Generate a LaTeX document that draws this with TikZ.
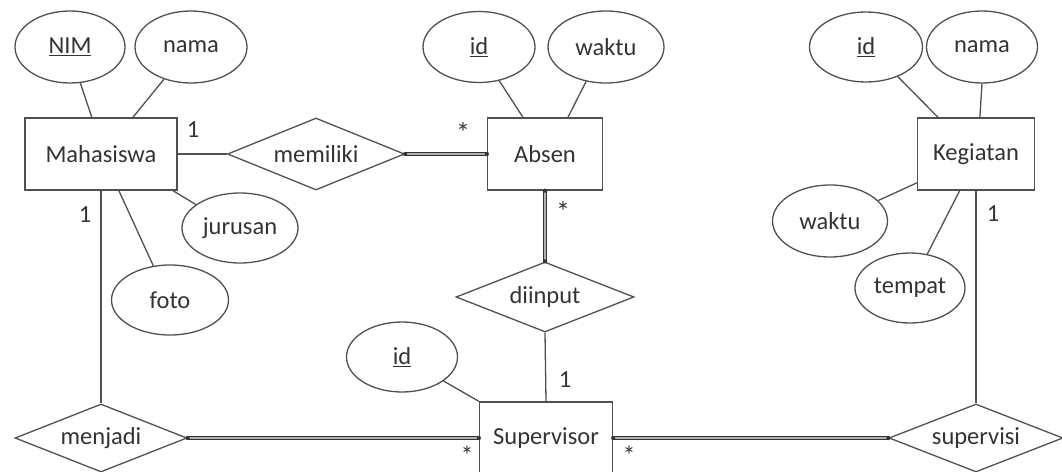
\documentclass[tikz,border=0pt]{standalone}
\usepackage{fontspec}
\setmainfont{Carlito}
\usetikzlibrary{shapes.geometric}
\definecolor{ln}{HTML}{505050}
\definecolor{tx}{HTML}{333333}
\begin{document}
\begin{tikzpicture}[x=1pt,y=-1pt,
  every node/.style={font=\fontsize{24.5}{28}\selectfont, text=tx},
  ent/.style={draw=ln, line width=1.3pt, rectangle, inner sep=0pt},
  attr/.style={draw=ln, line width=1.3pt, ellipse, inner sep=0pt, minimum width=113pt, minimum height=71pt},
  rel/.style={draw=ln, line width=1.3pt, diamond, aspect=2.5, inner sep=0pt, minimum width=176pt, minimum height=70pt},
  conn/.style={draw=ln, line width=1.3pt},
  dbl/.style={draw=tx, line width=1.5pt, double=gray!60, double distance=1.3pt},
  card/.style={inner sep=0pt},
  star/.style={inner sep=0pt, font=\fontsize{28}{28}\selectfont},
  lowstar/.style={inner sep=0pt, font=\fontsize{26}{26}\selectfont, anchor=base},
  enddot/.style={fill=tx, draw=none, circle, inner sep=0pt, minimum size=4.2pt}
]
\useasboundingbox (0,0) rectangle (1062,471);

% entities
\node[ent, minimum width=152pt, minimum height=72pt] (mhs) at (101,154) {Mahasiswa};
\node[ent, minimum width=115pt, minimum height=72pt] (abs) at (545,154) {Absen};
\node[ent, minimum width=117pt, minimum height=72pt] (keg) at (976,154) {Kegiatan};
\node[ent, minimum width=133pt, minimum height=72pt] (sup) at (546,438) {Supervisor};

% attributes
\node[attr, minimum width=110pt, minimum height=72pt] (nim) at (70,47) {\underline{NIM}};
\node[attr, minimum width=112pt, minimum height=72pt] (nama1) at (191,47) {nama};
\node[attr, minimum width=116pt, minimum height=70pt] (jur) at (240,228) {jurusan};
\node[attr, minimum width=117pt, minimum height=70pt] (foto) at (170,300) {foto};
\node[attr, minimum width=112pt, minimum height=71pt] (id2) at (479,47) {\underline{id}};
\node[attr, minimum width=116pt, minimum height=72pt] (waktu2) at (606,47) {waktu};
\node[attr, minimum width=111pt, minimum height=70pt] (id3) at (402,357) {\underline{id}};
\node[attr, minimum width=113pt, minimum height=70pt] (id4) at (866,47) {\underline{id}};
\node[attr, minimum width=111pt, minimum height=72pt] (nama4) at (982,47) {nama};
\node[attr, minimum width=115pt, minimum height=72pt] (waktu4) at (830,221) {waktu};
\node[attr, minimum width=110pt, minimum height=70pt] (tempat) at (910,288) {tempat};

% relationships
\node[rel, minimum width=177pt, minimum height=72pt] (mem) at (316,154) {memiliki};
\node[rel, minimum width=178pt, minimum height=70pt] (din) at (545,297) {diinput};
\node[rel, minimum width=172pt, minimum height=68pt] (menj) at (101,438) {menjadi};
\node[rel, minimum width=174pt, minimum height=68pt] (supv) at (976,438) {supervisi};

% attribute links
\draw[conn] (nim.-74) -- (mhs.104);
\draw[conn] (nama1.-130) -- (mhs.49);
\draw[conn] (jur.152) -- (mhs.-27.6);
\draw[conn] (foto.116) -- (mhs.-64.7);
\draw[conn] (id2.-59) -- (abs.121);
\draw[conn] (waktu2.-120) -- (abs.58.6);
\draw[conn] (id3.-30) -- (sup.north west);
\draw[conn] (id4.-43) -- (keg.136.5);
\draw[conn] (nama4.south) -- (keg.84);
\draw[conn] (waktu4.23.7) -- (keg.206.6);
\draw[conn] (tempat.63) -- (keg.246);

% relationship links
\draw[conn] (mhs.east) -- (mem.west);
\draw[dbl] (mem.east) -- (abs.west);
\draw[dbl] (abs.south) -- (din.north);
\draw[conn] (din.south) -- (sup.north);
\draw[conn] (mhs.south) -- (menj.north);
\draw[dbl] (menj.east) -- (sup.west);
\draw[dbl] (sup.east) -- (supv.west);
\draw[conn] (keg.south) -- (supv.north);

% end dots of double lines
\node[enddot] (d1) at (mem.east) {};
\node[enddot] (d2) at (abs.west) {};
\node[enddot] (d3) at (abs.south) {};
\node[enddot] (d4) at (din.north) {};
\node[enddot] (d5) at (menj.east) {};
\node[enddot] (d6) at (sup.west) {};
\node[enddot] (d7) at (sup.east) {};
\node[enddot] (d8) at (supv.west) {};

% cardinalities
\node[card] (c1) at (193,130) {1};
\node[star] (c2) at (463,133) {*};
\node[card] (c3) at (85,215) {1};
\node[star] (c4) at (563,212) {*};
\node[card] (c5) at (565,380) {1};
\node[lowstar] (c6) at (467,464) {*};
\node[lowstar] (c7) at (629,464) {*};
\node[card] (c8) at (993,214) {1};
\end{tikzpicture}
\end{document}
